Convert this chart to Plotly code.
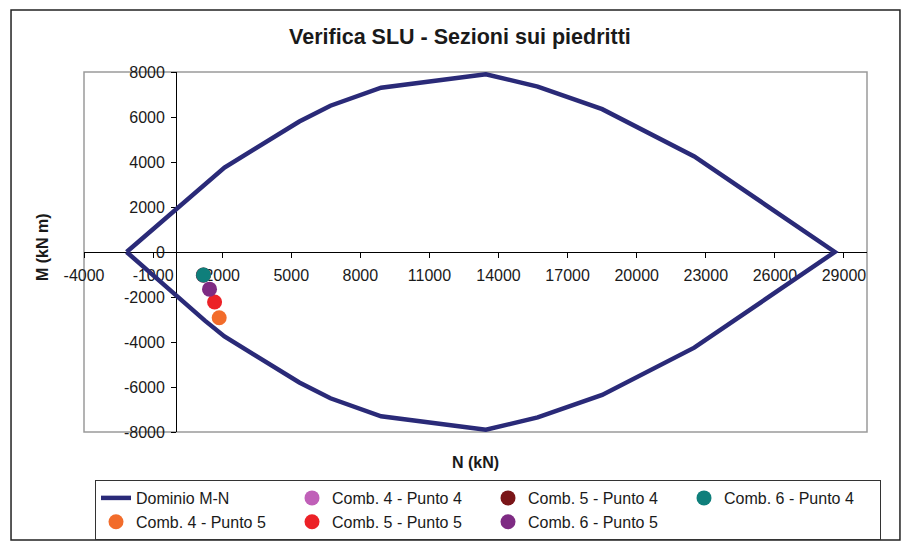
import plotly.graph_objects as go

# M-N interaction domain (closed loop: upper branch then lower branch)
dom_N = [-2150, 1250, 2100, 5350, 6700, 8900, 13450, 15700, 18500, 22500, 28600,
         22500, 18500, 15700, 13450, 8900, 6700, 5350, 2100, 1250, -2150]
dom_M = [0, 3050, 3750, 5800, 6500, 7300, 7900, 7350, 6350, 4250, 0,
         -4250, -6350, -7350, -7900, -7300, -6500, -5800, -3750, -3050, 0]

# Design actions on the wall sections (N in kN, M in kN m)
check_names = ["Comb. 4 - Punto 4", "Comb. 5 - Punto 4", "Comb. 6 - Punto 4",
               "Comb. 4 - Punto 5", "Comb. 5 - Punto 5", "Comb. 6 - Punto 5"]
check_N = [1180, 1185, 1190, 1870, 1670, 1450]
check_M = [-1030, -1025, -1020, -2920, -2220, -1650]
check_colors = ["#C060B8", "#7A1518", "#0F7F7B", "#F26C2B", "#EC2127", "#7E2B83"]

x_ticks = list(range(-4000, 30001, 3000))
y_ticks = list(range(-8000, 8001, 2000))

FONT = "Liberation Sans, Arial, sans-serif"

fig = go.Figure()
fig.add_trace(go.Scatter(
    x=dom_N, y=dom_M, mode="lines", name="Dominio M-N",
    line=dict(color="#2A2A78", width=4.5),
))
for name, n, m, c in zip(check_names, check_N, check_M, check_colors):
    fig.add_trace(go.Scatter(
        x=[n], y=[m], mode="markers", name=name,
        marker=dict(color=c, size=15, line=dict(width=0)),
    ))

# outer chart frame and plot-area frame
fig.add_shape(type="rect", xref="paper", yref="paper",
              x0=-0.0932, x1=1.0421, y0=-0.30, y1=1.172,
              line=dict(color="#222222", width=1.5), layer="below")
fig.add_shape(type="rect", xref="paper", yref="paper",
              x0=0, x1=1, y0=0, y1=1,
              line=dict(color="#9a9a9a", width=1.5), layer="below")

fig.update_layout(
    width=909, height=543,
    margin=dict(l=84, r=42, t=72, b=111, autoexpand=False),
    paper_bgcolor="white", plot_bgcolor="white",
    font=dict(family=FONT, size=16, color="#1a1a1a"),
    title=dict(text="<b>Verifica SLU - Sezioni sui piedritti</b>",
               x=0.506, xref="container", xanchor="center",
               y=0.932, yref="container", yanchor="middle",
               font=dict(family=FONT, size=21.5, color="#1a1a1a")),
    showlegend=True,
    legend=dict(orientation="h", x=(881 - 84) / 783, xanchor="right",
                y=(432 - 480) / 360, yanchor="top",
                entrywidth=151, entrywidthmode="pixels",
                bordercolor="#333333", borderwidth=1, bgcolor="white",
                font=dict(family=FONT, size=16, color="#1a1a1a"),
                traceorder="normal"),
    xaxis=dict(range=[-4000, 30000], tickvals=x_ticks,
               ticktext=[str(v) for v in x_ticks],
               showgrid=False, zeroline=False,
               showline=True, linecolor="black", linewidth=1,
               ticks="outside", ticklen=5, tickcolor="black",
               ticklabelstandoff=4,
               anchor="free", position=0.5, layer="below traces",
               tickfont=dict(family=FONT, size=16, color="#1a1a1a")),
    yaxis=dict(range=[-8000, 8000], tickvals=y_ticks,
               ticktext=[str(v) for v in y_ticks],
               showgrid=False, zeroline=False,
               showline=True, linecolor="black", linewidth=1,
               ticks="outside", ticklen=5, tickcolor="black",
               ticklabelstandoff=3,
               anchor="free", position=4000 / 34000, layer="below traces",
               tickfont=dict(family=FONT, size=16, color="#1a1a1a")),
)

# axis titles placed at the plot-area edges
fig.add_annotation(text="<b>N (kN)</b>", xref="paper", yref="paper",
                   x=0.5, y=(432 - 462) / 360, showarrow=False,
                   xanchor="center", yanchor="middle",
                   font=dict(family=FONT, size=16, color="#1a1a1a"))
fig.add_annotation(text="<b>M (kN m)</b>", xref="paper", yref="paper",
                   x=(42 - 84) / 783, y=(432 - 247) / 360, showarrow=False,
                   textangle=-90, xanchor="center", yanchor="middle",
                   font=dict(family=FONT, size=16, color="#1a1a1a"))

fig.write_html("out.html")
